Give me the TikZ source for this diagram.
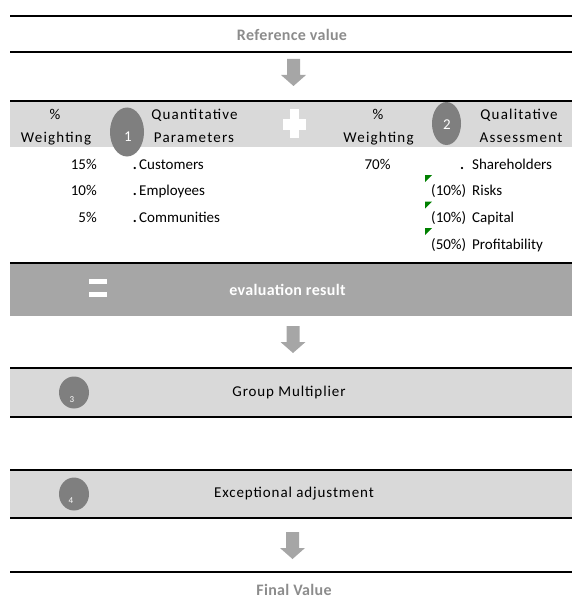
\documentclass[tikz,border=0pt]{standalone}
\usepackage{fontspec}
\setmainfont{Carlito}
\newfontfamily\hdrfont[LetterSpace=8]{Carlito}
\newfontfamily\midfont[LetterSpace=6]{Carlito}
\newfontfamily\ttlfont[LetterSpace=2]{Carlito}
\usetikzlibrary{shapes.geometric}
\definecolor{bandlight}{HTML}{D9D9D9}
\definecolor{banddark}{HTML}{A6A6A6}
\definecolor{circgray}{HTML}{7F7F7F}
\definecolor{titlegray}{HTML}{8C8C8C}
\definecolor{markgreen}{HTML}{008000}
\tikzset{
  rule/.style={line width=2.2pt, black},
  txt/.style={font=\fontsize{15}{17}\selectfont, inner sep=0pt, text=black},
  hdr/.style={font=\hdrfont\fontsize{15}{17}\selectfont, inner sep=0pt, text=black, anchor=base},
  mid/.style={font=\midfont\fontsize{15}{17}\selectfont, inner sep=0pt, text=black},
  title/.style={font=\ttlfont\fontsize{16}{18}\selectfont\bfseries, text=titlegray, inner sep=0pt},
  numcirc/.style={ellipse, fill=circgray, inner sep=0pt},
  smallnum/.style={font=\fontsize{9}{10}\selectfont, text=white, inner sep=0pt},
  blockarrow/.style={fill=banddark, draw=none},
  greenmk/.style={fill=markgreen, draw=none},
}
\newcommand{\downarrowat}[2]{%
  \fill[blockarrow] (#1-6.5,#2) -- (#1+6.5,#2) -- (#1+6.5,#2+16) -- (#1+12.5,#2+16) -- (#1,#2+27) -- (#1-12.5,#2+16) -- (#1-6.5,#2+16) -- cycle;}
\newcommand{\greenmark}[2]{%
  \fill[greenmk] (#1,#2) -- (#1+7,#2) -- (#1,#2+7) -- cycle;}
\begin{document}
\begin{tikzpicture}[x=1pt,y=-1pt]
\useasboundingbox (0,0) rectangle (572,607);
% top
\draw[rule] (10,16) -- (572,16);
\node[title] (ref) at (292,35) {Reference value};
\draw[rule] (10,52) -- (572,52);
\downarrowat{293.5}{59}
% band 1
\fill[bandlight] (10,101) rectangle (572,147);
\draw[rule] (10,101) -- (572,101);
\node[numcirc, minimum width=34pt, minimum height=49pt] (c1) at (127,132) {};
\node[txt, text=white] (n1) at (128,137) {1};
\node[numcirc, minimum width=29pt, minimum height=43pt] (c2) at (446.5,123.5) {};
\node[txt, text=white] (n2) at (447,125) {2};
\node[hdr] (w1a) at (55,119) {\%};
\node[hdr] (w1b) at (56,142) {Weighting};
\node[hdr] (qp1) at (194.5,119) {Quantitative};
\node[hdr] (qp2) at (194,142) {Parameters};
\node[hdr] (w2a) at (378,119) {\%};
\node[hdr] (w2b) at (378.5,142) {Weighting};
\node[hdr] (qa1) at (519,119) {Qualitative};
\node[hdr] (qa2) at (521,142) {Assessment};
% plus
\fill[white] (283,119) rectangle (306,130);
\fill[white] (290,109) rectangle (299,138);
% list left
\node[txt, anchor=base east] (p15) at (97,169) {15\%};
\node[txt, anchor=base east] (p10) at (97,195.5) {10\%};
\node[txt, anchor=base east] (p5) at (97,222) {5\%};
\node[txt, anchor=base] (b1) at (135,169) {\textbf{.}};
\node[txt, anchor=base] (b2) at (135,195.5) {\textbf{.}};
\node[txt, anchor=base] (b3) at (135,222) {\textbf{.}};
\node[txt, anchor=base west] (cust) at (139,169) {Customers};
\node[txt, anchor=base west] (empl) at (139,195.5) {Employees};
\node[txt, anchor=base west] (comm) at (139,222) {Communities};
% list right
\node[txt, anchor=base] (p70) at (377.5,169) {70\%};
\node[txt, anchor=base] (b4) at (462,169) {\textbf{.}};
\node[txt, anchor=base west] (share) at (472,169) {Shareholders};
\greenmark{425}{175}
\greenmark{425}{201.5}
\greenmark{425}{228}
\node[txt, anchor=base west] (r1) at (431,195.5) {(10\%)};
\node[txt, anchor=base west] (risk) at (472,195.5) {Risks};
\node[txt, anchor=base west] (r2) at (431,222.5) {(10\%)};
\node[txt, anchor=base west] (capi) at (472,222.5) {Capital};
\node[txt, anchor=base west] (r3) at (431,249) {(50\%)};
\node[txt, anchor=base west] (prof) at (472,249) {Profitability};
% evaluation band
\fill[banddark] (10,263) rectangle (572,316);
\draw[rule] (10,263) -- (572,263);
\fill[white] (89,279) rectangle (107,284);
\fill[white] (89,292) rectangle (107,297);
\node[title, text=white] (eval) at (287.5,290) {evaluation result};
\downarrowat{293}{326}
% group multiplier
\fill[bandlight] (10,368) rectangle (572,417);
\draw[rule] (10,368) -- (572,368);
\draw[rule] (10,417) -- (572,417);
\node[numcirc, minimum width=30pt, minimum height=32pt] (c3) at (74,392.5) {};
\node[smallnum] (n3) at (72,400) {3};
\node[mid] (gm) at (289,392) {Group Multiplier};
% exceptional adjustment
\fill[bandlight] (10,470) rectangle (572,518);
\draw[rule] (10,470) -- (572,470);
\draw[rule] (10,518) -- (572,518);
\node[numcirc, minimum width=30pt, minimum height=33pt] (c4) at (74,494) {};
\node[smallnum] (n4) at (71,501) {4};
\node[mid] (ea) at (294,494) {Exceptional adjustment};
\downarrowat{292.5}{532}
\draw[rule] (10,572) -- (572,572);
\node[title] (fv) at (294,590) {Final Value};
\end{tikzpicture}
\end{document}
